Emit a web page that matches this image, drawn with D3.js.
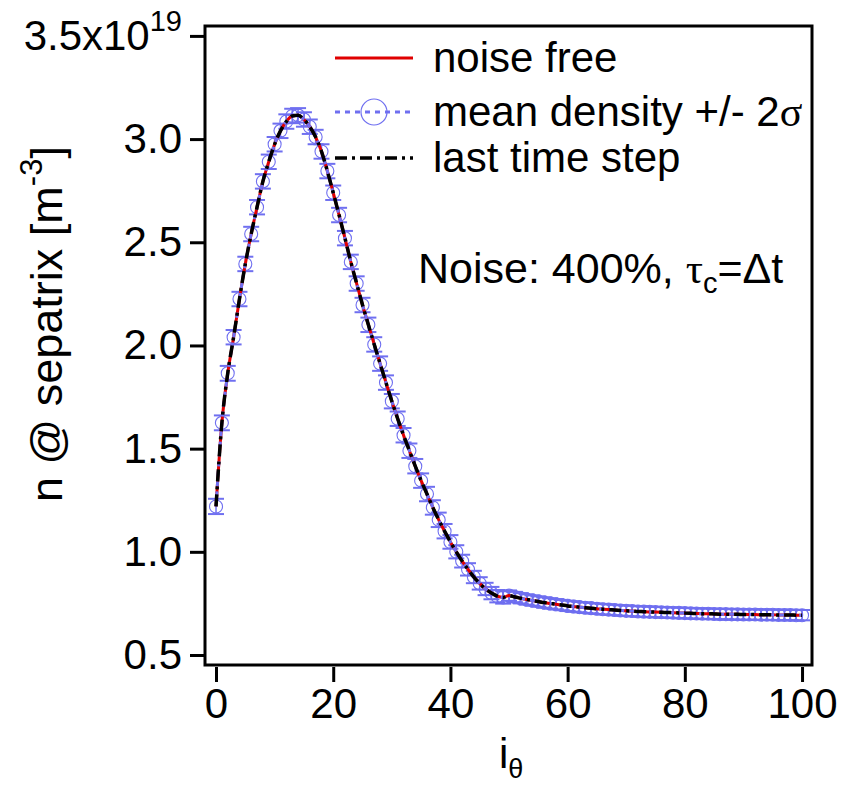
<!DOCTYPE html>
<html>
<head>
<meta charset="utf-8">
<script src="https://cdn.jsdelivr.net/npm/d3@7"></script>
<style>
  body { margin: 0; background: #fff; }
  svg { font-family: 'Liberation Sans', Arial, sans-serif; }
</style>
</head>
<body>
<div id="graf"></div>
<script>
// n @ separatrix in units of 1e19 m^-3, index i_theta = 0..100
// noise free / mean / last time step lie on top of each other at this scale
const nSep = [
  1.22, 1.625, 1.865, 2.04, 2.225, 2.395, 2.54, 2.67, 2.795, 2.89,
  2.975, 3.04, 3.085, 3.112, 3.115, 3.095, 3.06, 3.01, 2.94, 2.845,
  2.74, 2.632, 2.52, 2.405, 2.3, 2.196, 2.1, 2.005, 1.912, 1.82,
  1.73, 1.645, 1.565, 1.49, 1.415, 1.345, 1.28, 1.215, 1.155, 1.1,
  1.048, 1.0, 0.955, 0.915, 0.878, 0.847, 0.82, 0.8, 0.785, 0.779,
  0.788, 0.781, 0.775, 0.769, 0.764, 0.759, 0.754, 0.75, 0.746, 0.742,
  0.738, 0.735, 0.732, 0.729, 0.727, 0.724, 0.722, 0.72, 0.718, 0.716,
  0.714, 0.713, 0.711, 0.71, 0.709, 0.708, 0.707, 0.706, 0.705, 0.704,
  0.703, 0.702, 0.701, 0.7, 0.7, 0.699, 0.698, 0.698, 0.697, 0.697,
  0.696, 0.696, 0.696, 0.695, 0.695, 0.695, 0.694, 0.694, 0.694, 0.693,
  0.693,
]
// 2 sigma of the mean density
const sigma2 = [
  0.037, 0.036, 0.036, 0.035, 0.035, 0.035, 0.035, 0.035, 0.035, 0.035,
  0.035, 0.035, 0.035, 0.035, 0.035, 0.035, 0.035, 0.035, 0.035, 0.035,
  0.035, 0.035, 0.035, 0.035, 0.035, 0.035, 0.035, 0.035, 0.035, 0.035,
  0.035, 0.035, 0.035, 0.035, 0.035, 0.035, 0.035, 0.035, 0.035, 0.035,
  0.033, 0.032, 0.031, 0.03, 0.03, 0.03, 0.03, 0.03, 0.03, 0.03,
  0.025, 0.025, 0.025, 0.025, 0.025, 0.025, 0.025, 0.025, 0.025, 0.025,
  0.025, 0.025, 0.025, 0.025, 0.025, 0.025, 0.025, 0.025, 0.025, 0.025,
  0.025, 0.025, 0.025, 0.025, 0.025, 0.025, 0.025, 0.025, 0.025, 0.025,
  0.025, 0.025, 0.025, 0.025, 0.025, 0.025, 0.025, 0.025, 0.025, 0.025,
  0.025, 0.025, 0.025, 0.025, 0.025, 0.025, 0.025, 0.025, 0.025, 0.025,
  0.025,
]
const xTicks = [0, 20, 40, 60, 80, 100]
const yTicks = [0.5, 1.0, 1.5, 2.0, 2.5, 3.0, 3.5]
const legendItems = ['noise free', 'mean density +/- 2', 'last time step']

const datos = nSep.map((v, i) => ({ i: i, n: v, s: sigma2[i] }))

const anchoTotal = 841
const altoTotal = 785
const blue = '#6f6ff0'
const red = '#e00000'

const svg = d3
  .select('#graf')
  .append('svg')
  .attr('width', anchoTotal)
  .attr('height', altoTotal)

// !ESCALADORES
const x = d3.scaleLinear().domain([-1.88, 101.7]).range([205, 812])
const y = d3.scaleLinear().domain([0.4516, 3.548]).range([665, 26])

// !EJES
const ejeY = svg
  .append('g')
  .attr('transform', 'translate(205, 0)')
  .call(
    d3
      .axisLeft(y)
      .tickValues(yTicks)
      .tickSize(15)
      .tickPadding(8)
      .tickFormat((d) => d3.format('.1f')(d))
  )
ejeY.select('.domain').remove()
ejeY.selectAll('line').attr('stroke', '#000').attr('stroke-width', 3)
ejeY.selectAll('text').attr('font-size', 42).attr('fill', '#000').attr('font-family', null)
ejeY
  .selectAll('text')
  .filter((d) => d === 3.5)
  .text('')
  .call((t) => {
    t.append('tspan').text('3.5x10')
    t.append('tspan').attr('font-size', 29).attr('dy', -19).text('19')
  })

const ejeX = svg
  .append('g')
  .attr('transform', 'translate(0, 667)')
  .call(d3.axisBottom(x).tickValues(xTicks).tickSize(15).tickPadding(6))
ejeX.select('.domain').remove()
ejeX.selectAll('line').attr('stroke', '#000').attr('stroke-width', 3)
ejeX.selectAll('text').attr('font-size', 42).attr('fill', '#000').attr('font-family', null)

// marco
svg
  .append('rect')
  .attr('x', 205)
  .attr('y', 26)
  .attr('width', 812 - 205)
  .attr('height', 665 - 26)
  .attr('fill', 'none')
  .attr('stroke', '#000')
  .attr('stroke-width', 3)

// !SERIES
const g = svg.append('g')

// barras de error + circulos
const barras = g.selectAll('.eb').data(datos).enter().append('g').attr('class', 'eb')
barras
  .append('line')
  .attr('x1', (d) => x(d.i))
  .attr('x2', (d) => x(d.i))
  .attr('y1', (d) => y(d.n - d.s))
  .attr('y2', (d) => y(d.n + d.s))
  .attr('stroke', blue)
  .attr('stroke-width', 1.5)
barras
  .selectAll('.cap')
  .data((d) => [d.n - d.s, d.n + d.s].map((v) => ({ i: d.i, v: v })))
  .enter()
  .append('line')
  .attr('x1', (d) => x(d.i) - 8)
  .attr('x2', (d) => x(d.i) + 8)
  .attr('y1', (d) => y(d.v))
  .attr('y2', (d) => y(d.v))
  .attr('stroke', blue)
  .attr('stroke-width', 2)
g.selectAll('circle')
  .data(datos)
  .enter()
  .append('circle')
  .attr('cx', (d) => x(d.i))
  .attr('cy', (d) => y(d.n))
  .attr('r', 6.5)
  .attr('fill', 'none')
  .attr('stroke', blue)
  .attr('stroke-width', 1.1)

const linea = d3
  .line()
  .x((d) => x(d.i))
  .y((d) => y(d.n))
  .curve(d3.curveMonotoneX)

g.append('path').attr('d', linea(datos)).attr('fill', 'none').attr('stroke', red).attr('stroke-width', 3)
g.append('path')
  .attr('d', linea(datos))
  .attr('fill', 'none')
  .attr('stroke', blue)
  .attr('stroke-width', 3)
  .attr('stroke-dasharray', '5,5')
g.append('path')
  .attr('d', linea(datos))
  .attr('fill', 'none')
  .attr('stroke', '#000')
  .attr('stroke-width', 3.5)
  .attr('stroke-dasharray', '12,5,3,5')

// !LEYENDA
const leyY = [58, 112, 158]
const ley = svg.append('g')
ley.append('line').attr('x1', 335).attr('x2', 413).attr('y1', leyY[0]).attr('y2', leyY[0])
  .attr('stroke', red).attr('stroke-width', 3)
ley.append('line').attr('x1', 335).attr('x2', 413).attr('y1', leyY[1]).attr('y2', leyY[1])
  .attr('stroke', blue).attr('stroke-width', 3).attr('stroke-dasharray', '5,5')
ley.append('circle').attr('cx', 374).attr('cy', leyY[1]).attr('r', 13)
  .attr('fill', 'none').attr('stroke', blue).attr('stroke-width', 1.2)
ley.append('line').attr('x1', 335).attr('x2', 413).attr('y1', leyY[2]).attr('y2', leyY[2])
  .attr('stroke', '#000').attr('stroke-width', 3.5).attr('stroke-dasharray', '12,5,3,5')

ley.selectAll('text')
  .data(legendItems)
  .enter()
  .append('text')
  .attr('x', 433)
  .attr('y', (d, k) => leyY[k] + 14)
  .attr('font-size', 42)
  .text((d) => d)
ley.selectAll('text')
  .filter((d, k) => k === 1)
  .append('tspan')
  .attr('font-family', "'Liberation Serif', serif")
  .text('σ')

// anotacion
const nota = svg.append('text').attr('x', 418).attr('y', 283).attr('font-size', 43)
nota.append('tspan').text('Noise: 400%, ')
nota.append('tspan').attr('font-family', "'Liberation Serif', serif").text('τ')
nota.append('tspan').attr('font-size', 29).attr('dy', 10).text('c')
nota.append('tspan').attr('dy', -10).text('=Δt')

// !ETIQUETAS DE EJES
const yLab = svg
  .append('text')
  .attr('transform', 'translate(62, 324) rotate(-90)')
  .attr('text-anchor', 'middle')
  .attr('font-size', 45)
yLab.append('tspan').text('n @ sepatrix [m')
yLab.append('tspan').attr('font-size', 31).attr('dy', -20).text('-3')
yLab.append('tspan').attr('dy', 20).text(']')

const xLab = svg.append('text').attr('x', 499).attr('y', 768).attr('font-size', 42)
xLab.append('tspan').text('i')
xLab.append('tspan').attr('font-size', 27).attr('dy', 10).text('θ')
</script>
</body>
</html>
